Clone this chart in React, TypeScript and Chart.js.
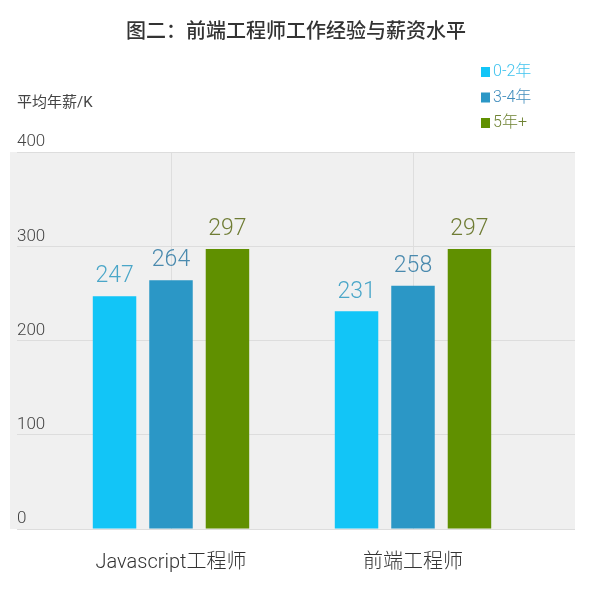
import React, { useEffect, useRef } from "react";
import { Chart, registerables } from "chart.js";

Chart.register(...registerables);

const categories = ["Javascript工程师", "前端工程师"];
const seriesNames = ["0-2年", "3-4年", "5年+"];
const junior = [247, 231];
const middle = [264, 258];
const senior = [297, 297];
const yTicks = [0, 100, 200, 300, 400];

const barColors = ["#12c5f7", "#2b97c6", "#609000"];
const valueColors = ["#4aa6c8", "#4a8aae", "#6f7c34"];
const legendTextColors = ["#3fc3ee", "#3f8cbc", "#6e8232"];

const FONT = "Roboto, 'Noto Sans CJK SC', 'Liberation Sans', sans-serif";

const bgPlugin = {
  id: "bgPlugin",
  beforeDraw(chart: any) {
    const { ctx, chartArea } = chart;
    const y = chart.scales.y;
    const y2 = chart.scales.y2;
    ctx.save();
    ctx.fillStyle = "#f0f0f0";
    const left = y.left - 7;
    ctx.fillRect(left, chartArea.top, y2.right - left, chartArea.bottom - chartArea.top);
    ctx.restore();
  },
};

const valueLabelPlugin = {
  id: "valueLabelPlugin",
  afterDatasetsDraw(chart: any) {
    const { ctx } = chart;
    ctx.save();
    ctx.font = `300 23px ${FONT}`;
    ctx.textAlign = "center";
    ctx.textBaseline = "bottom";
    chart.data.datasets.forEach((ds: any, di: number) => {
      const meta = chart.getDatasetMeta(di);
      ctx.fillStyle = valueColors[di];
      meta.data.forEach((bar: any, i: number) => {
        ctx.fillText(String(ds.data[i]), bar.x, bar.y - 8);
      });
    });
    ctx.restore();
  },
};

const legendPlugin = {
  id: "legendPlugin",
  afterDraw(chart: any) {
    const { ctx } = chart;
    const y2 = chart.scales.y2;
    const x0 = y2.right - 94;
    const yStart = 72;
    const step = 25.5;
    ctx.save();
    ctx.font = `300 16px ${FONT}`;
    ctx.textBaseline = "middle";
    ctx.textAlign = "left";
    chart.data.datasets.forEach((ds: any, di: number) => {
      const cy = yStart + di * step;
      ctx.fillStyle = ds.backgroundColor;
      ctx.fillRect(x0, cy - 5, 9, 10);
      ctx.fillStyle = legendTextColors[di];
      ctx.fillText(ds.label, x0 + 12, cy);
    });
    ctx.restore();
  },
};

export default function App() {
  const ref = useRef<HTMLCanvasElement | null>(null);

  useEffect(() => {
    if (!ref.current) return;
    const chart = new Chart(ref.current, {
      type: "bar",
      data: {
        labels: categories,
        datasets: [
          { label: seriesNames[0], data: junior, backgroundColor: barColors[0] },
          { label: seriesNames[1], data: middle, backgroundColor: barColors[1] },
          { label: seriesNames[2], data: senior, backgroundColor: barColors[2] },
        ],
      },
      options: {
        responsive: false,
        animation: false,
        events: [],
        layout: { padding: { left: 17, right: 25, top: 0, bottom: 18 } },
        datasets: {
          bar: { categoryPercentage: 0.7, barPercentage: 0.77 },
        },
        plugins: {
          legend: { display: false },
          tooltip: { enabled: false },
          title: {
            display: true,
            text: "图二：前端工程师工作经验与薪资水平",
            color: "#333333",
            font: { family: FONT, size: 20, weight: "500" },
            padding: { top: 21, bottom: 49 },
          },
          subtitle: {
            display: true,
            text: "平均年薪/K",
            align: "start",
            color: "#444444",
            font: { family: FONT, size: 15, weight: "normal" },
            padding: { top: 0, bottom: 40 },
          },
        },
        scales: {
          x: {
            type: "category",
            afterFit: (scale: any) => {
              scale.height = 47;
            },
            grid: {
              display: true,
              offset: false,
              color: "#dedede",
              drawTicks: false,
            },
            border: { display: false },
            ticks: {
              color: "#333333",
              padding: 22,
              font: { family: FONT, size: 20, weight: "300" },
            },
          },
          y: {
            type: "linear",
            position: "left",
            min: 0,
            max: 400,
            afterBuildTicks: (scale: any) => {
              scale.ticks = yTicks.map((v) => ({ value: v }));
            },
            afterFit: (scale: any) => {
              scale.width = 33;
            },
            grid: {
              color: "#dddddd",
              drawTicks: true,
              tickLength: 33,
            },
            border: { display: false },
            ticks: {
              crossAlign: "far",
              labelOffset: -10,
              padding: 0,
              color: "#444444",
              font: { family: FONT, size: 17, weight: "300" },
            },
          },
          y2: {
            type: "linear",
            position: "right",
            min: 0,
            max: 400,
            afterBuildTicks: (scale: any) => {
              scale.ticks = yTicks.map((v) => ({ value: v }));
            },
            afterFit: (scale: any) => {
              scale.width = 41;
            },
            grid: {
              color: "#dddddd",
              drawOnChartArea: false,
              drawTicks: true,
              tickLength: 41,
            },
            border: { display: false },
            ticks: { display: false },
          },
        },
      } as any,
      plugins: [bgPlugin, valueLabelPlugin, legendPlugin],
    });
    return () => chart.destroy();
  }, []);

  return (
    <div style={{ position: "absolute", left: 0, top: 0, width: 600, height: 594, background: "#ffffff" }}>
      <canvas ref={ref} width={600} height={594} style={{ display: "block" }} />
    </div>
  );
}
